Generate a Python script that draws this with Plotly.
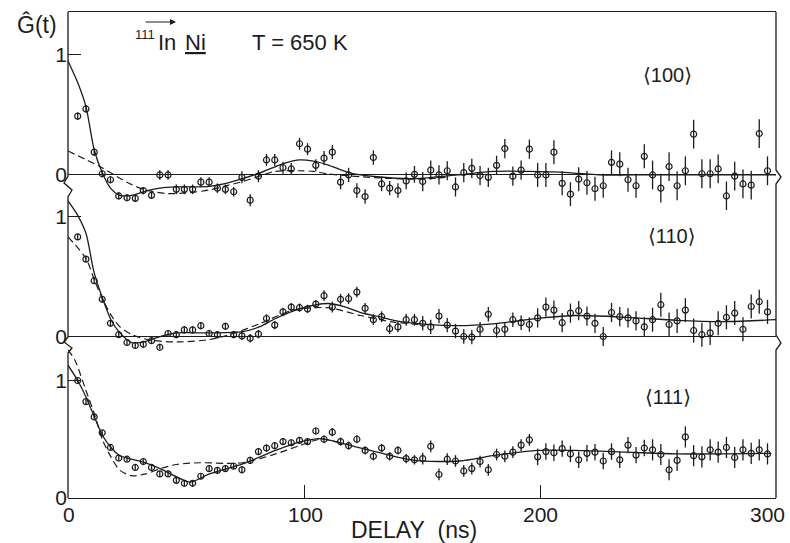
import plotly.graph_objects as go

# ---------------- data ----------------
delay_ns = [4.1, 7.6, 11.1, 14.5, 18.0, 21.5, 25.0, 28.5, 31.9, 35.4,
            38.9, 42.4, 45.9, 49.3, 52.8, 56.3, 59.8, 63.3, 66.7, 70.2,
            73.7, 77.2, 80.7, 84.1, 87.6, 91.1, 94.6, 98.1, 101.5, 105.0,
            108.5, 112.0, 115.5, 118.9, 122.4, 125.9, 129.4, 132.9, 136.3, 139.8,
            143.3, 146.8, 150.3, 153.7, 157.2, 160.7, 164.2, 167.7, 171.1, 174.6,
            178.1, 181.6, 185.1, 188.5, 192.0, 195.5, 199.0, 202.5, 205.9, 209.4,
            212.9, 216.4, 219.9, 223.3, 226.8, 230.3, 233.8, 237.3, 240.7, 244.2,
            247.7, 251.2, 254.7, 258.1, 261.6, 265.1, 268.6, 272.1, 275.5, 279.0,
            282.5, 286.0, 289.5, 292.9, 296.4]

g100 = [0.49, 0.55, 0.19, 0.01, -0.04, -0.175, -0.19, -0.195, -0.13, -0.17,
        0.00, 0.00, -0.12, -0.12, -0.12, -0.06, -0.06, -0.11, -0.12, -0.14,
        -0.02, -0.21, -0.01, 0.125, 0.125, 0.06, 0.05, 0.26, 0.215, 0.08,
        0.14, 0.19, -0.06, 0.00, -0.13, -0.18, 0.145, -0.075, -0.11, -0.13,
        -0.05, 0.005, -0.055, 0.04, 0.00, 0.035, -0.10, 0.02, 0.055, -0.005,
        -0.02, 0.08, 0.22, -0.01, 0.04, 0.215, 0.00, 0.00, 0.19, -0.07,
        -0.16, -0.035, -0.065, -0.115, -0.09, 0.105, 0.09, -0.04, -0.09, 0.155,
        0.00, -0.11, 0.07, -0.09, 0.035, 0.34, 0.01, 0.01, 0.05, -0.175,
        -0.01, -0.075, -0.085, 0.345, 0.035]
g100_err = [0.03, 0.03, 0.03, 0.03, 0.03, 0.03, 0.03, 0.03, 0.03, 0.03,
            0.04, 0.04, 0.04, 0.04, 0.04, 0.04, 0.04, 0.04, 0.04, 0.04,
            0.05, 0.05, 0.05, 0.05, 0.05, 0.05, 0.05, 0.05, 0.05, 0.05,
            0.06, 0.06, 0.06, 0.06, 0.06, 0.06, 0.06, 0.06, 0.06, 0.06,
            0.07, 0.07, 0.08, 0.08, 0.08, 0.08, 0.08, 0.08, 0.08, 0.08,
            0.08, 0.08, 0.08, 0.08, 0.08, 0.08, 0.10, 0.10, 0.10, 0.10,
            0.10, 0.10, 0.10, 0.10, 0.10, 0.10, 0.10, 0.10, 0.10, 0.10,
            0.12, 0.12, 0.12, 0.12, 0.12, 0.12, 0.12, 0.12, 0.12, 0.12,
            0.12, 0.12, 0.12, 0.12, 0.12]

g110 = [0.83, 0.645, 0.465, 0.31, 0.11, 0.015, -0.05, -0.075, -0.065, -0.035,
        -0.09, 0.025, 0.015, 0.055, 0.055, 0.09, 0.025, 0.015, 0.085, 0.015,
        0.005, -0.015, 0.02, 0.15, 0.095, 0.205, 0.245, 0.24, 0.23, 0.27,
        0.34, 0.245, 0.31, 0.315, 0.37, 0.235, 0.14, 0.165, 0.065, 0.08,
        0.14, 0.14, 0.11, 0.08, 0.17, 0.095, 0.045, 0.0, -0.005, 0.06,
        0.185, 0.05, 0.06, 0.14, 0.115, 0.10, 0.155, 0.245, 0.22, 0.115,
        0.195, 0.215, 0.17, 0.11, 0.0, 0.2, 0.165, 0.155, 0.13, 0.08,
        0.14, 0.265, 0.10, 0.13, 0.22, 0.05, 0.015, 0.03, 0.11, 0.16,
        0.195, 0.06, 0.25, 0.29, 0.205]
g110_err = [0.025, 0.025, 0.025, 0.025, 0.025, 0.025, 0.025, 0.025, 0.025, 0.025,
            0.03, 0.03, 0.03, 0.03, 0.03, 0.03, 0.03, 0.03, 0.03, 0.03,
            0.035, 0.035, 0.035, 0.035, 0.035, 0.035, 0.035, 0.035, 0.035, 0.035,
            0.045, 0.045, 0.045, 0.045, 0.045, 0.045, 0.045, 0.045, 0.045, 0.045,
            0.05, 0.05, 0.06, 0.06, 0.06, 0.06, 0.06, 0.06, 0.06, 0.06,
            0.06, 0.06, 0.06, 0.06, 0.06, 0.06, 0.08, 0.08, 0.08, 0.08,
            0.08, 0.08, 0.08, 0.08, 0.08, 0.08, 0.08, 0.08, 0.08, 0.08,
            0.10, 0.10, 0.10, 0.10, 0.10, 0.10, 0.10, 0.10, 0.10, 0.10,
            0.10, 0.10, 0.10, 0.10, 0.10]

g111 = [1.0, 0.82, 0.69, 0.555, 0.43, 0.34, 0.33, 0.26, 0.31, 0.26,
        0.205, 0.205, 0.15, 0.125, 0.125, 0.185, 0.25, 0.235, 0.25, 0.27,
        0.24, 0.32, 0.395, 0.425, 0.445, 0.48, 0.47, 0.49, 0.48, 0.57,
        0.50, 0.56, 0.48, 0.445, 0.50, 0.405, 0.355, 0.425, 0.355, 0.405,
        0.335, 0.325, 0.335, 0.44, 0.20, 0.33, 0.315, 0.23, 0.25, 0.31,
        0.24, 0.37, 0.355, 0.39, 0.45, 0.495, 0.35, 0.395, 0.385, 0.42,
        0.375, 0.325, 0.38, 0.39, 0.315, 0.395, 0.325, 0.45, 0.365, 0.425,
        0.41, 0.37, 0.24, 0.32, 0.52, 0.36, 0.35, 0.41, 0.39, 0.43,
        0.345, 0.41, 0.38, 0.41, 0.375]
g111_err = [0.02, 0.02, 0.02, 0.02, 0.02, 0.02, 0.02, 0.02, 0.02, 0.02,
            0.025, 0.025, 0.025, 0.025, 0.025, 0.025, 0.025, 0.025, 0.025, 0.025,
            0.03, 0.03, 0.03, 0.03, 0.03, 0.03, 0.03, 0.03, 0.03, 0.03,
            0.035, 0.035, 0.035, 0.035, 0.035, 0.035, 0.035, 0.035, 0.035, 0.035,
            0.04, 0.04, 0.05, 0.05, 0.05, 0.05, 0.05, 0.05, 0.05, 0.05,
            0.05, 0.05, 0.05, 0.05, 0.05, 0.05, 0.07, 0.07, 0.07, 0.07,
            0.07, 0.07, 0.07, 0.07, 0.07, 0.07, 0.07, 0.07, 0.07, 0.07,
            0.09, 0.09, 0.09, 0.09, 0.09, 0.09, 0.09, 0.09, 0.09, 0.09,
            0.09, 0.09, 0.09, 0.09, 0.09]

# fitted curves (solid) and alternative fits (dashed)
fit100_t = [0, 4.1, 7.6, 11.1, 14.5, 18, 22, 27, 32, 39, 46, 53, 60, 67, 74, 81, 88,
            93, 98, 104, 110, 119, 131, 147, 165, 180, 195, 212, 225, 240, 300]
fit100 = [0.95, 0.77, 0.57, 0.21, 0.02, -0.11, -0.17, -0.17, -0.14, -0.11, -0.10,
          -0.10, -0.095, -0.07, -0.03, 0.015, 0.07, 0.105, 0.125, 0.115, 0.085, 0.02,
          -0.015, -0.03, 0.0, 0.03, 0.03, 0.02, 0.0, 0.0, 0.0]
alt100_t = [0, 13.5, 25, 32, 42, 50, 60, 67, 74, 81, 88, 98, 104, 110, 124, 147, 160]
alt100 = [0.20, 0.07, -0.06, -0.12, -0.155, -0.15, -0.125, -0.09, -0.055, -0.01, 0.03,
          0.035, 0.03, 0.01, -0.015, -0.035, -0.02]

fit110_t = [0, 4.1, 7.6, 11.1, 14.6, 18.2, 22, 27, 33, 39, 46, 60, 74, 81, 88, 98,
            110, 117, 124, 132, 138, 147, 166, 180, 201, 215, 237, 258, 279, 300]
fit110 = [1.13, 1.01, 0.86, 0.53, 0.32, 0.14, 0.03, -0.05, -0.04, 0.0, 0.03, 0.03,
          0.04, 0.08, 0.15, 0.23, 0.275, 0.25, 0.2, 0.165, 0.135, 0.11, 0.09, 0.105,
          0.155, 0.175, 0.16, 0.135, 0.125, 0.14]
alt110_t = [0, 7.6, 11.2, 14.7, 18.2, 22, 27.7, 35, 46, 60, 70, 81, 95.5, 110, 124,
            138, 150]
alt110 = [0.83, 0.65, 0.47, 0.31, 0.18, 0.08, 0.01, -0.03, -0.045, -0.025, 0.025,
          0.105, 0.22, 0.24, 0.175, 0.12, 0.10]

fit111_t = [0, 4.1, 7.6, 11.2, 14.7, 18.2, 22, 32, 39, 46, 51.7, 60, 74, 88, 98, 107,
            117, 131, 147, 166, 180, 199, 215, 237, 258, 298]
fit111 = [1.13, 1.0, 0.86, 0.69, 0.53, 0.43, 0.36, 0.305, 0.25, 0.18, 0.135, 0.205,
          0.29, 0.405, 0.475, 0.505, 0.46, 0.39, 0.32, 0.315, 0.36, 0.405, 0.405,
          0.39, 0.375, 0.38]
alt111_t = [0, 3, 7.6, 11.2, 14.7, 18.2, 22, 27, 33, 39, 46, 56, 67, 74, 88, 98, 107,
            117]
alt111 = [1.26, 1.17, 0.915, 0.715, 0.49, 0.35, 0.235, 0.19, 0.205, 0.25, 0.285, 0.30,
          0.295, 0.30, 0.375, 0.445, 0.50, 0.46]

x_tick_labels = ["0", "100", "200", "300"]
x_tick_vals = [0, 100, 200, 300]
panel_labels = ["\u27e8100\u27e9", "\u27e8110\u27e9", "\u27e8111\u27e9"]

# ---------------- layout geometry ----------------
W, H = 790, 543
L, R, T, B = 68, 776, 12, 498
INK = "#1c1c1c"
FONT = "Liberation Sans, Arial, DejaVu Sans, sans-serif"


def fx(px):
    return (px - L) / (R - L)


def fy(py):
    return (B - py) / (B - T)


fig = go.Figure()

panels = [
    (g100, g100_err, fit100_t, fit100, alt100_t, alt100, "x3", "y3"),
    (g110, g110_err, fit110_t, fit110, alt110_t, alt110, "x2", "y2"),
    (g111, g111_err, fit111_t, fit111, alt111_t, alt111, "x", "y"),
]

for vals, errs, ft, fv, at, av, xa, ya in panels:
    fig.add_trace(go.Scatter(x=ft, y=fv, mode="lines", xaxis=xa, yaxis=ya,
                             line=dict(color=INK, width=1.3, shape="spline", smoothing=0.8),
                             showlegend=False, hoverinfo="skip"))
    fig.add_trace(go.Scatter(x=at, y=av, mode="lines", xaxis=xa, yaxis=ya,
                             line=dict(color=INK, width=1.2, dash="7px,4px",
                                       shape="spline", smoothing=0.8),
                             showlegend=False, hoverinfo="skip"))
    fig.add_trace(go.Scatter(x=delay_ns, y=vals, mode="markers", xaxis=xa, yaxis=ya,
                             cliponaxis=False,
                             marker=dict(symbol="circle-open", size=6, color=INK,
                                         line=dict(width=1.2, color=INK)),
                             error_y=dict(type="data", array=errs, visible=True,
                                          width=0, thickness=1.3, color=INK),
                             showlegend=False))

# panels overlap slightly, as in the original drawing
dom_bot = [0, fy(349)]
dom_mid = [fy(349), fy(190)]
dom_top = [fy(210), 1]

yfont = dict(family=FONT, size=21, color=INK)
common_y = dict(showgrid=False, tickvals=[0, 1], ticktext=["0", "1"], ticks="inside",
                ticklen=13, tickwidth=1.3, tickcolor=INK, tickfont=yfont,
                showline=False, zeroline=False, fixedrange=True)

fig.update_layout(
    width=W, height=H,
    margin=dict(l=L, r=W - R, t=T, b=H - B),
    paper_bgcolor="white", plot_bgcolor="rgba(0,0,0,0)",
    xaxis=dict(domain=[0, 1], anchor="y", range=[0, 300], showgrid=False,
               zeroline=False, showline=True, linecolor=INK, linewidth=1.3,
               tickvals=[100, 200], ticks="inside", ticklen=13, tickwidth=1.3,
               tickcolor=INK, showticklabels=False, fixedrange=True),
    xaxis2=dict(domain=[0, 1], anchor="y2", range=[0, 300], matches="x",
                showgrid=False, zeroline=False, showline=False, showticklabels=False,
                ticks=""),
    xaxis3=dict(domain=[0, 1], anchor="y3", range=[0, 300], matches="x",
                showgrid=False, zeroline=False, showline=True, side="top",
                linecolor=INK, linewidth=1.3, showticklabels=False, ticks=""),
    yaxis=dict(domain=dom_bot, anchor="x", range=[0, 1.268], **common_y),
    yaxis2=dict(domain=dom_mid, anchor="x2", range=[-0.104, 1.221], **common_y),
    yaxis3=dict(domain=dom_top, anchor="x3", range=[-0.292, 1.358], **common_y),
)
fig.update_layout(yaxis2=dict(zeroline=True, zerolinecolor=INK, zerolinewidth=1.2),
                  yaxis3=dict(zeroline=True, zerolinecolor=INK, zerolinewidth=1.2))


def path(points):
    return "M " + " L ".join(f"{fx(px):.5f},{fy(py):.5f}" for px, py in points)


left_pts = [(68, 12), (68, 176), (64, 183), (72, 190), (68, 197), (68, 337),
            (64, 342), (72, 348), (68, 353), (68, 498)]
right_pts = [(776, 12), (776, 170), (781, 177), (776, 184), (776, 335),
             (781, 343), (776, 350), (776, 498)]
shapes = [
    dict(type="path", xref="paper", yref="paper", path=path(left_pts),
         line=dict(color=INK, width=1.3)),
    dict(type="path", xref="paper", yref="paper", path=path(right_pts),
         line=dict(color=INK, width=1.3)),
]
fig.update_layout(shapes=shapes)

ann = []
# x tick labels
x_label_shift = [0.5, 1, 0.5, -9]
for v, txt, sh in zip(x_tick_vals, x_tick_labels, x_label_shift):
    ann.append(dict(x=v, y=fy(514), xref="x", yref="paper", text=txt, showarrow=False,
                    xanchor="center", yanchor="middle", xshift=sh,
                    font=dict(family=FONT, size=21, color=INK)))
ann.append(dict(x=fx(414), y=fy(530), xref="paper", yref="paper",
                text="DELAY\u00a0\u00a0(ns)", showarrow=False,
                xanchor="center", yanchor="middle",
                font=dict(family=FONT, size=23, color=INK)))
ann.append(dict(x=fx(37), y=fy(24), xref="paper", yref="paper", text="\u011c(t)",
                showarrow=False, xanchor="center", yanchor="middle",
                font=dict(family=FONT, size=23, color=INK)))
ann.append(dict(x=fx(133), y=fy(34), xref="paper", yref="paper", text="111",
                showarrow=False, xanchor="left", yanchor="middle",
                font=dict(family=FONT, size=13, color=INK)))
ann.append(dict(x=fx(156), y=fy(42), xref="paper", yref="paper", text="In",
                showarrow=False, xanchor="left", yanchor="middle",
                font=dict(family=FONT, size=22, color=INK)))
ann.append(dict(x=fx(183), y=fy(42), xref="paper", yref="paper", text="<u>Ni</u>",
                showarrow=False, xanchor="left", yanchor="middle",
                font=dict(family=FONT, size=22, color=INK)))
ann.append(dict(x=fx(176), y=fy(22), xref="paper", yref="paper", text="",
                showarrow=True, ax=-32, ay=0, arrowhead=2, arrowsize=1,
                arrowwidth=1.2, arrowcolor=INK, standoff=0, startstandoff=0))
ann.append(dict(x=fx(250), y=fy(42), xref="paper", yref="paper", text="T = 650 K",
                showarrow=False, xanchor="left", yanchor="middle",
                font=dict(family=FONT, size=22, color=INK)))
for txt, (px, py) in zip(panel_labels, [(667, 75), (672, 236), (668, 397)]):
    ann.append(dict(x=fx(px), y=fy(py), xref="paper", yref="paper", text=txt,
                    showarrow=False, xanchor="center", yanchor="middle",
                    font=dict(family=FONT, size=20, color=INK)))
fig.update_layout(annotations=ann)

fig.write_html("out.html")
